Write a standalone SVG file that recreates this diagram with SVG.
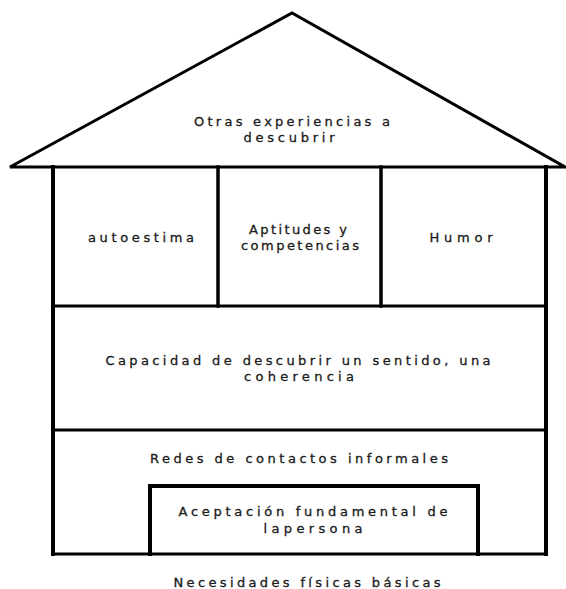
<svg xmlns="http://www.w3.org/2000/svg" width="566" height="589" viewBox="0 0 566 589">
<style>
  .ln { stroke: #000; fill: none; stroke-linecap: square; }
  .roof { stroke-width: 3; stroke-linejoin: miter; }
  .wall { stroke-width: 4; }
  .div { stroke-width: 3.5; }
  .hz { stroke-width: 3; }
  .lbl { font-family: "DejaVu Sans", "Liberation Sans", sans-serif; font-size: 13px; fill: #1a1a1a; stroke: #1a1a1a; stroke-width: 0.3; text-anchor: middle; }
</style>
<rect width="566" height="589" fill="#fff"/>
<g id="roof">
  <polygon class="ln roof" points="10,167 292,13 565,167"/>
  <text class="lbl" x="292" y="126" textLength="196" lengthAdjust="spacing">Otras experiencias a</text>
  <text class="lbl" x="289" y="142" textLength="91" lengthAdjust="spacing">descubrir</text>
</g>
<g id="house-frame">
  <line class="ln wall" x1="53" y1="167" x2="53" y2="554"/>
  <line class="ln wall" x1="546" y1="167" x2="546" y2="554"/>
  <line class="ln hz" x1="53" y1="554" x2="546" y2="554"/>
</g>
<g id="autoestima">
  <line class="ln div" x1="218" y1="167" x2="218" y2="306"/>
  <text class="lbl" x="141" y="242" textLength="106" lengthAdjust="spacing">autoestima</text>
</g>
<g id="aptitudes">
  <line class="ln div" x1="381" y1="167" x2="381" y2="306"/>
  <text class="lbl" x="298" y="234" textLength="98" lengthAdjust="spacing">Aptitudes y</text>
  <text class="lbl" x="300" y="250" textLength="118" lengthAdjust="spacing">competencias</text>
</g>
<g id="humor">
  <text class="lbl" x="461" y="242" textLength="63" lengthAdjust="spacing">Humor</text>
</g>
<g id="capacidad">
  <line class="ln hz" x1="53" y1="306" x2="546" y2="306"/>
  <text class="lbl" x="298" y="365" textLength="385" lengthAdjust="spacing">Capacidad de descubrir un sentido, una</text>
  <text class="lbl" x="299" y="381" textLength="110" lengthAdjust="spacing">coherencia</text>
</g>
<g id="redes">
  <line class="ln hz" x1="53" y1="430" x2="546" y2="430"/>
  <text class="lbl" x="299" y="463" textLength="298" lengthAdjust="spacing">Redes de contactos informales</text>
</g>
<g id="aceptacion">
  <polyline class="ln wall" points="150,554 150,486 478,486 478,554"/>
  <text class="lbl" x="313" y="516" textLength="269" lengthAdjust="spacing">Aceptación fundamental de</text>
  <text class="lbl" x="313" y="533" textLength="99" lengthAdjust="spacing">lapersona</text>
</g>
<g id="necesidades">
  <text class="lbl" x="307" y="587" textLength="267" lengthAdjust="spacing">Necesidades físicas básicas</text>
</g>
<g id="connectors"></g>
</svg>
